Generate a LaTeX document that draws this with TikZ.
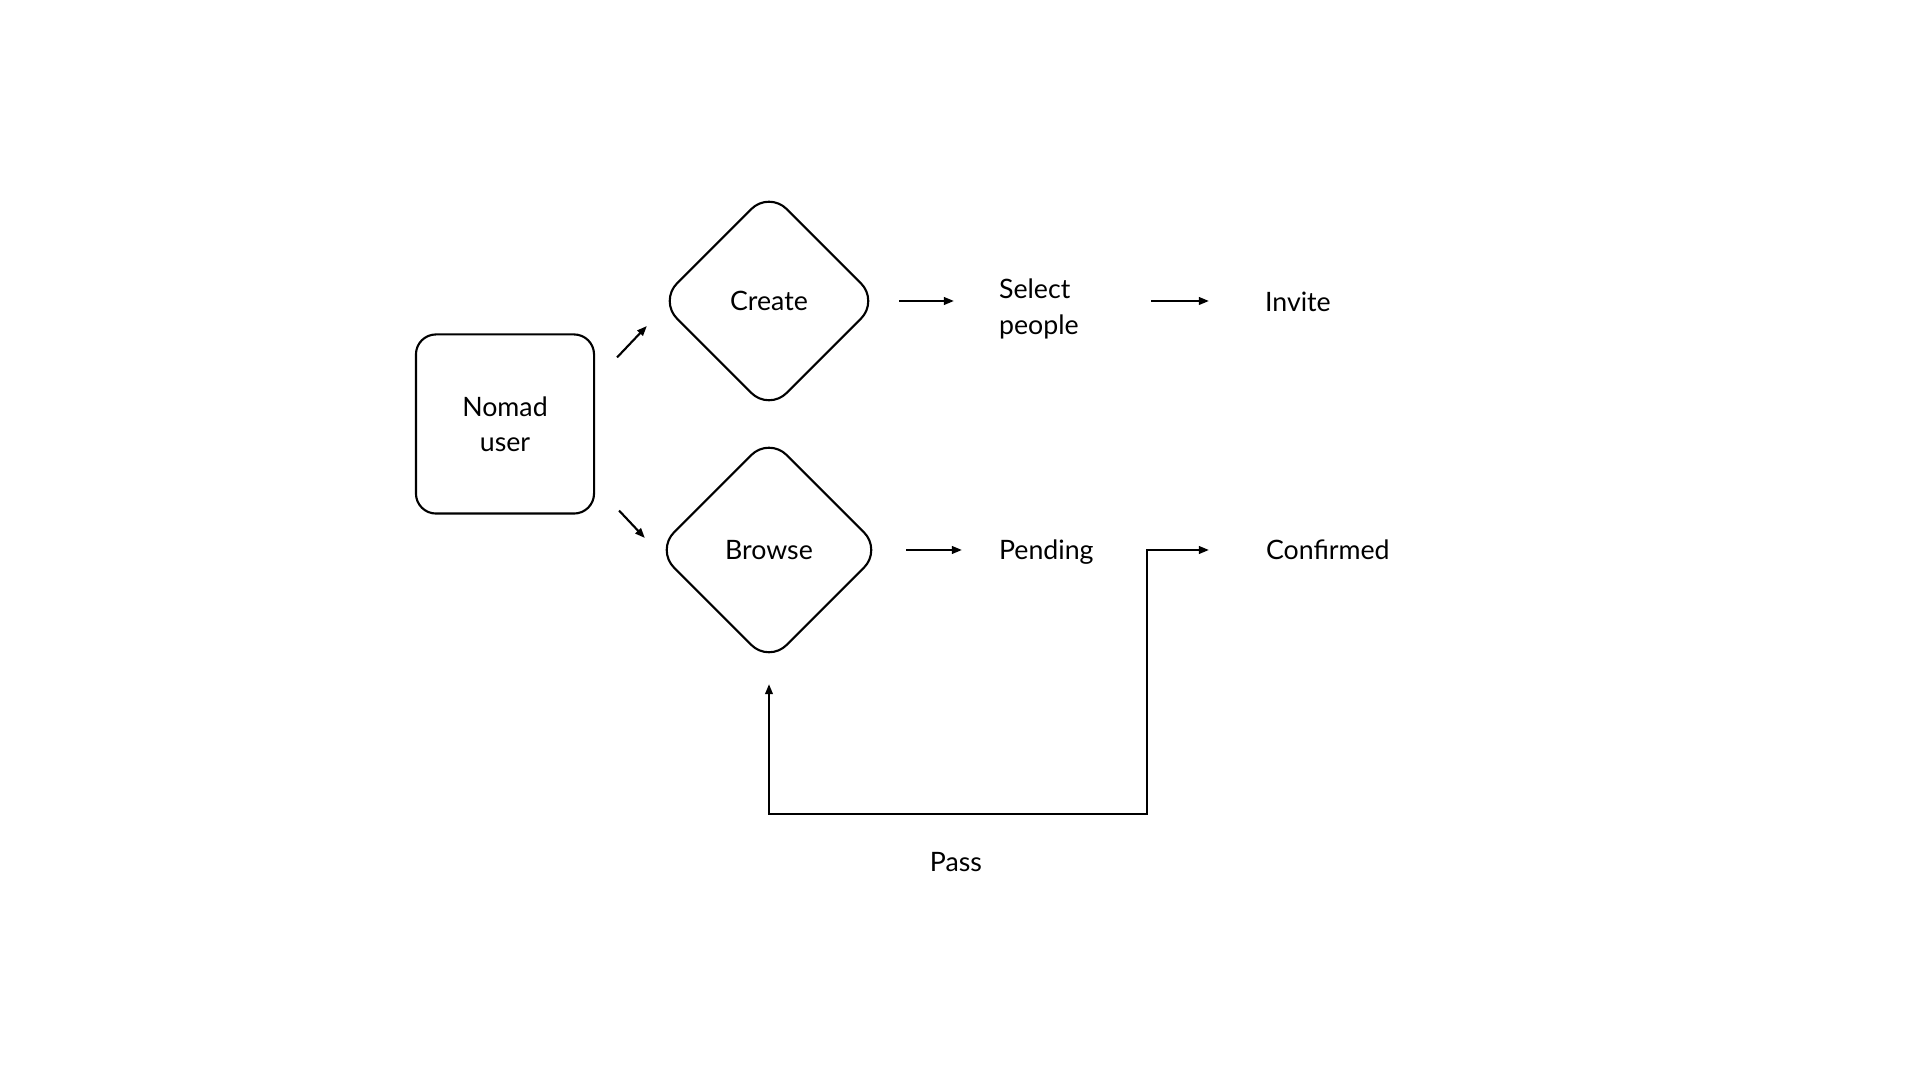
\documentclass[tikz,border=0pt]{standalone}
\usepackage{fontspec}
\setmainfont{Lato}
\usetikzlibrary{shapes.geometric,arrows.meta,calc}
\begin{document}
\begin{tikzpicture}[x=0.01cm,y=-0.01cm, line width=0.6pt,
  font=\fontsize{7.6pt}{10pt}\selectfont,
  box/.style={draw, rounded corners=0.2cm, minimum width=1.78cm, minimum height=1.79cm, inner sep=0, align=center},
  dec/.style={draw, diamond, rounded corners=0.25cm, inner sep=0, aspect=1},
  lbl/.style={inner sep=0, anchor=west, align=left},
  arr/.style={-{Triangle[length=0.1cm,width=0.075cm]}},
  arrboth/.style={{Triangle[length=0.1cm,width=0.075cm]}-{Triangle[length=0.1cm,width=0.075cm]}}]
\useasboundingbox (0,0) rectangle (1920,1080);

\node[box] (nomad) at (505,424) {Nomad\\user};
\node[dec, minimum width=2.2cm, minimum height=2.2cm] (create) at (769,301) {Create};
\node[dec, minimum width=2.26cm, minimum height=2.26cm] (browse) at (769,550) {Browse};
\node[lbl] (select) at (998,309) {Select\\people};
\node[lbl] (invite) at (1264,302) {Invite};
\node[lbl] (pending) at (998,552) {Pending};
\node[lbl] (confirmed) at (1265,550) {Confirmed};
\node[inner sep=0] (pass) at (956,862) {Pass};
\coordinate (lp) at (1147,814);

\draw[arr] ([shift={(22,24)}]nomad.north east) -- ([shift={(-11,25)}]create.west);
\draw[arr] ([shift={(24,-4)}]nomad.south east) -- ([shift={(-10,-12)}]browse.west);
\draw[arr, shorten <=0.19cm, shorten >=0.44cm] (create.east) -- (create.east -| select.west);
\draw[arr, shorten <=1.53cm, shorten >=0.55cm] (select.west |- create.east) -- (create.east -| invite.west);
\draw[arr, shorten <=0.23cm, shorten >=0.36cm] (browse.east) -- (browse.east -| pending.west);
\draw[arrboth, shorten <=0.2cm, shorten >=0.56cm] (browse.south) |- (lp) |- (confirmed.west);
\end{tikzpicture}
\end{document}
